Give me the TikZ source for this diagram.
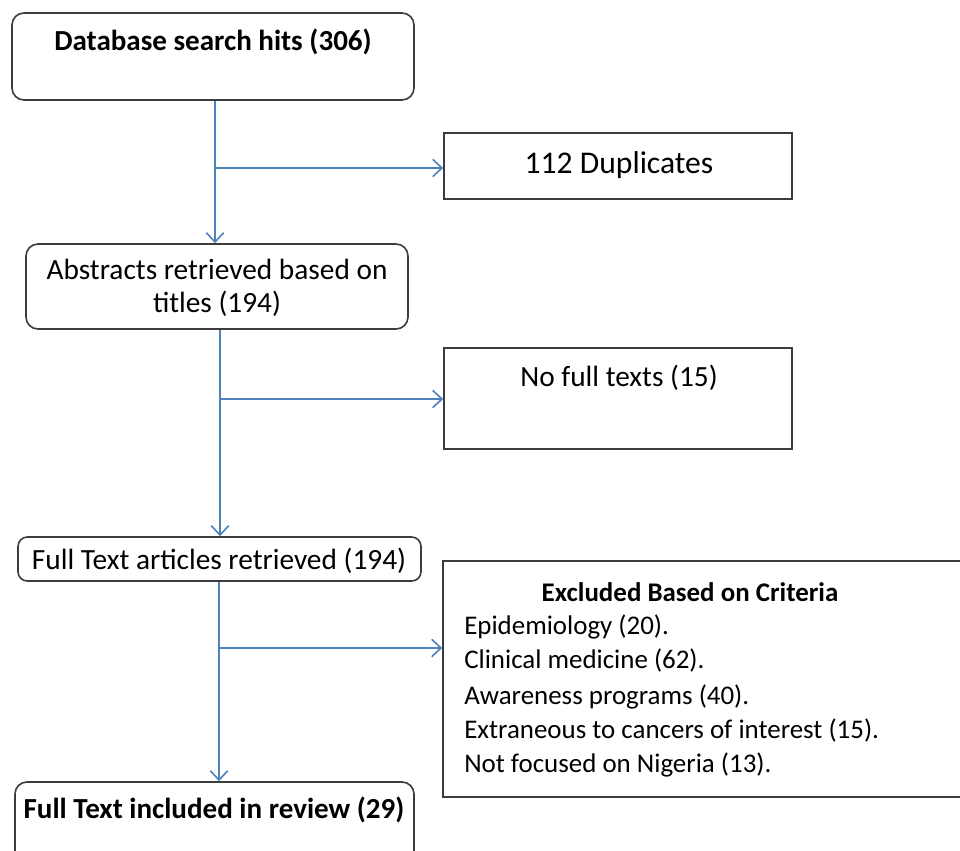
\documentclass[tikz,border=0pt]{standalone}
\usepackage{fontspec}
\setmainfont{Carlito}
\usetikzlibrary{arrows.meta,fit}
\definecolor{flowblue}{RGB}{79,129,189}
\definecolor{boxgray}{RGB}{60,60,60}
\tikzset{
  rbox/.style={draw=boxgray, line width=1.2pt, rounded corners=9pt, inner sep=0pt, fill=white},
  sbox/.style={draw=boxgray, line width=1.2pt, inner sep=0pt, fill=white},
  txt/.style={inner sep=0pt, text=black, font=\fontsize{22}{27}\selectfont},
  btxt/.style={txt, font=\fontsize{21.8}{27}\selectfont\bfseries},
  ltxt/.style={txt, font=\fontsize{20.2}{25}\selectfont},
  flow/.style={draw=flowblue, line width=1.4pt, -{Straight Barb[length=7pt,width=13pt,line width=1.2pt]}}
}
\begin{document}
\begin{tikzpicture}[x=0.75pt,y=-0.75pt]
\useasboundingbox (0,0) rectangle (960,850);
\clip (0,0) rectangle (960,850);
\fill[white] (0,0) rectangle (960,850);
% boxes
\node[rbox, fit={(12,13) (414,100)}] (db) {};
\node[sbox, fit={(444,133) (792,199)}] (dup) {};
\node[rbox, fit={(26,244) (408,329)}] (abs) {};
\node[sbox, fit={(444,348) (792,449)}] (nft) {};
\node[rbox, rounded corners=7pt, fit={(18,537) (421,581)}] (ftr) {};
\node[sbox, fit={(443,561) (975,797)}] (exc) {};
\node[rbox, fit={(15,782) (414,880)}] (fti) {};
% texts
\node[btxt] (dbt) at (213,42) {Database search hits (306)};
\node[txt, font=\fontsize{23.7}{28}\selectfont] (dupt) at (619,165) {112 Duplicates};
\node[txt, align=center, font=\fontsize{22}{25}\selectfont] (abst) at (217,288) {Abstracts retrieved based on\\titles (194)};
\node[txt] (nftt) at (619,378) {No full texts (15)};
\node[txt] (ftrt) at (219,561) {Full Text articles retrieved (194)};
\node[ltxt, font=\fontsize{20.2}{25}\selectfont\bfseries] (exct) at (690,592) {Excluded Based on Criteria};
\node[ltxt, anchor=west] (e1) at (464,627) {Epidemiology (20).};
\node[ltxt, anchor=west] (e2) at (464,661) {Clinical medicine (62).};
\node[ltxt, anchor=west] (e3) at (464,697) {Awareness programs (40).};
\node[ltxt, anchor=west] (e4) at (464,731) {Extraneous to cancers of interest (15).};
\node[ltxt, anchor=west] (e5) at (464,765) {Not focused on Nigeria (13).};
\node[btxt] (ftit) at (214,810) {Full Text included in review (29)};
% connectors
\coordinate (b1) at (215,168);
\coordinate (b2) at (220,399);
\coordinate (b3) at (219,648);
\draw[flow] (db.south -| b1) -- (abs.north -| b1);
\draw[flow] (b1) -- (dup.west |- b1);
\draw[flow] (abs.south -| b2) -- (ftr.north -| b2);
\draw[flow] (b2) -- (nft.west |- b2);
\draw[flow] (ftr.south -| b3) -- (fti.north -| b3);
\draw[flow] (b3) -- (exc.west |- b3);
\end{tikzpicture}
\end{document}
